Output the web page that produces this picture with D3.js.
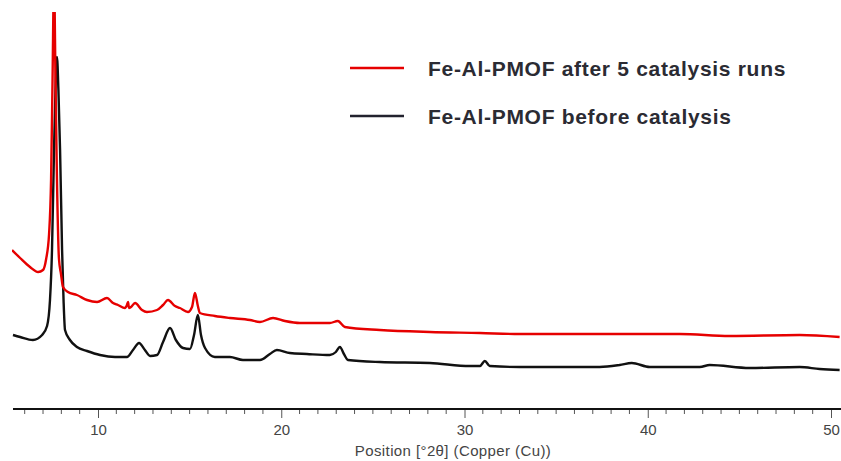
<!DOCTYPE html>
<html>
<head>
<meta charset="utf-8">
<script src="https://cdn.jsdelivr.net/npm/d3@7"></script>
<style>
html,body{margin:0;padding:0;background:#fff;}
svg{display:block;}
</style>
</head>
<body>
<svg id="chart" width="841" height="461"></svg>
<script>
// 2θ positions (degrees) and intensities (arbitrary counts)
const seriesNames = ["Fe-Al-PMOF after 5 catalysis runs", "Fe-Al-PMOF before catalysis"];
const seriesColors = ["#e60000", "#1a1a22"];

const afterTheta = [5.31,5.75,6.29,6.73,7.00,7.17,7.33,7.44,7.52,7.60,7.68,7.76,7.87,7.98,8.09,8.36,8.85,9.40,9.95,10.49,10.82,11.09,11.47,11.58,11.64,11.69,11.80,12.02,12.40,12.67,13.22,13.55,13.82,14.20,14.47,14.91,15.13,15.29,15.45,15.56,16.38,17.20,18.29,18.84,19.55,20.20,21.02,22.65,23.09,23.47,25.38,28.11,30.84,33.02,37.38,41.75,44.47,48.29,50.47];
const afterCounts = [1590,1510,1420,1370,1390,1500,1750,2300,3300,4300,3300,2300,1500,1350,1220,1170,1140,1090,1070,1110,1060,1040,1010,1040,1070,1010,1020,1060,990,970,990,1040,1090,1030,1010,970,1020,1160,1030,960,930,910,890,870,910,880,860,860,880,820,790,770,760,750,750,750,730,740,720];

const beforeTheta = [5.36,5.75,6.45,6.95,7.22,7.38,7.49,7.60,7.68,7.76,7.84,7.93,8.04,8.12,8.20,8.47,8.85,9.40,10.11,10.93,11.58,11.91,12.24,12.56,12.84,13.22,13.55,13.93,14.25,14.64,15.02,15.24,15.45,15.62,15.84,16.38,17.20,17.91,18.84,19.38,19.76,20.47,21.40,22.65,22.98,23.20,23.42,23.64,25.38,28.11,30.29,30.84,31.11,31.38,33.02,37.38,38.47,39.13,40.11,42.84,43.38,45.56,48.29,49.38,50.47];
const beforeCounts = [740,720,690,740,830,1090,1590,2590,3190,3520,3190,2590,1590,1090,790,690,620,580,540,520,520,590,660,590,530,540,670,810,690,610,600,740,940,740,610,520,520,490,490,550,590,560,550,540,570,620,550,490,470,460,430,430,480,430,420,420,440,460,420,420,440,410,420,400,390];

const majorTicks = [10,20,30,40,50];
const minorTicks = d3.range(6, 51, 1).filter(v => v % 10 !== 0);
const xLabel = "Position [°2θ] (Copper (Cu))";

const svg = d3.select("#chart");
const x = d3.scaleLinear().domain([10, 50]).range([98, 831]);
const y = d3.scaleLinear().domain([0, 4000]).range([409, 9]);
const axisY = 409;

svg.append("defs").append("clipPath").attr("id","plotclip")
  .append("rect").attr("x", 12).attr("y", 12).attr("width", 829).attr("height", axisY - 12);

const line = d3.line().x(d => x(d[0])).y(d => y(d[1])).curve(d3.curveMonotoneX);

const g = svg.append("g").attr("clip-path","url(#plotclip)");
const beforeData = beforeTheta.map((t,i) => [t, beforeCounts[i]]);
const afterData = afterTheta.map((t,i) => [t, afterCounts[i]]);
g.append("path").datum(beforeData).attr("d", line)
  .attr("fill","none").attr("stroke", "#111").attr("stroke-width", 2.4).attr("stroke-linejoin","round");
g.append("path").datum(afterData).attr("d", line)
  .attr("fill","none").attr("stroke", seriesColors[0]).attr("stroke-width", 2.4).attr("stroke-linejoin","round");

// axis
const axisG = svg.append("g").attr("transform", `translate(0,${axisY})`);
axisG.call(d3.axisBottom(x).tickValues(majorTicks).tickSize(9).tickPadding(6).tickFormat(d3.format("d")));
axisG.select(".domain").remove();
axisG.selectAll(".tick line").attr("stroke","#555").attr("stroke-width",1);
axisG.selectAll(".tick text").attr("fill","#444").style("font-family","'Liberation Sans', Arial, sans-serif").style("font-size","15px");
axisG.selectAll(".minor").data(minorTicks).enter().append("line").attr("class","minor")
  .attr("x1", d => x(d)).attr("x2", d => x(d)).attr("y1", 0).attr("y2", 5)
  .attr("stroke","#555").attr("stroke-width",1);
svg.append("line").attr("x1", 13).attr("x2", 841).attr("y1", axisY).attr("y2", axisY)
  .attr("stroke","#111").attr("stroke-width",2);

svg.append("text").attr("x", 453).attr("y", 456).attr("text-anchor","middle")
  .attr("fill","#444").style("font-family","'Liberation Sans', Arial, sans-serif").style("font-size","15px")
  .style("letter-spacing","0.4px").text(xLabel);

// legend
const legendY = [68, 116];
const legendColors = [seriesColors[0], "#22222e"];
seriesNames.forEach((name, i) => {
  svg.append("line").attr("x1", 350).attr("x2", 404).attr("y1", legendY[i]).attr("y2", legendY[i])
    .attr("stroke", legendColors[i]).attr("stroke-width", 2.5);
  svg.append("text").attr("x", 428).attr("y", legendY[i] + 8)
    .attr("fill","#2b2b33").style("font-family","'Liberation Sans', Arial, sans-serif")
    .style("font-size","21px").style("font-weight","bold").style("letter-spacing","0.7px")
    .text(name);
});
</script>
</body>
</html>
